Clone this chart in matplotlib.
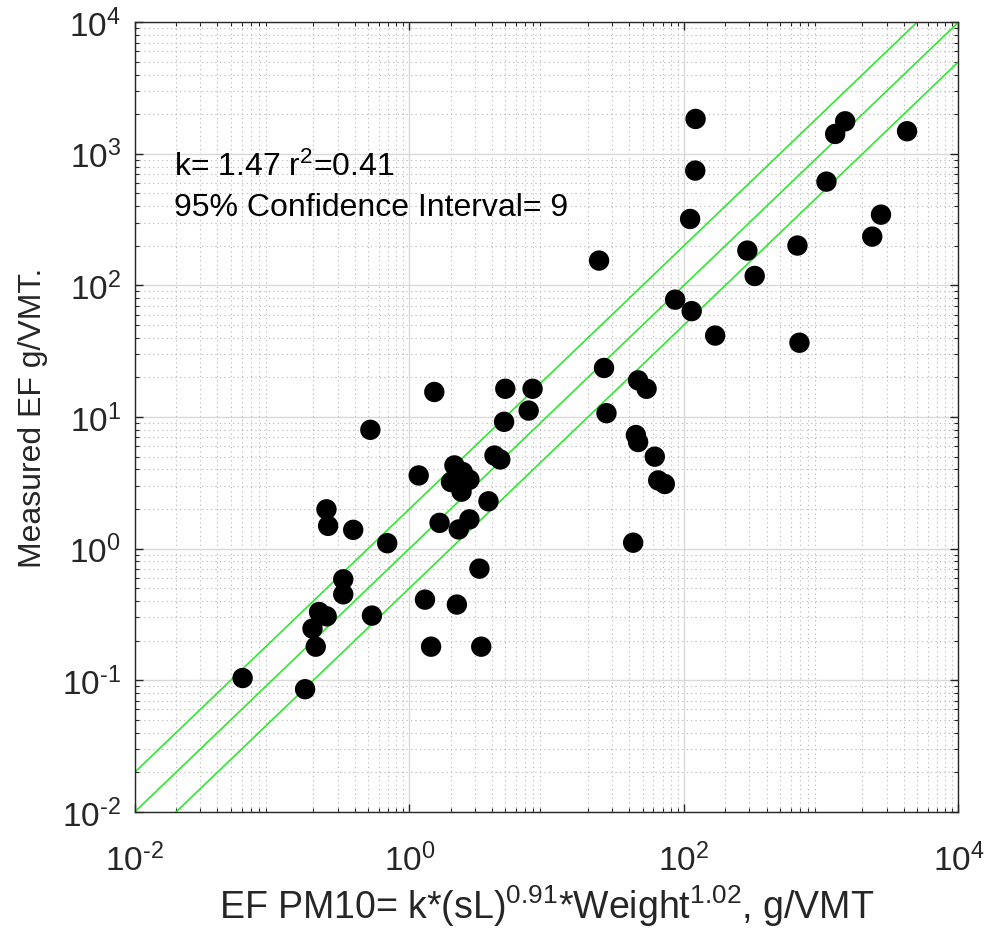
import matplotlib
matplotlib.use("Agg")
import matplotlib.pyplot as plt
import numpy as np
from matplotlib.ticker import LogLocator, NullFormatter

# predicted EF (x) and measured EF (y), g/VMT
pred = [0.061, 0.174, 0.208, 0.197, 0.22, 0.25, 0.33, 0.33, 0.534, 0.52,
        0.249, 0.256, 0.39, 0.69, 1.17, 1.3, 1.44, 1.52, 1.66, 2.22,
        2.29, 2.74, 3.24, 3.34, 3.77, 4.17, 4.6, 4.9, 5.0, 7.4,
        7.9, 2.13, 2.45, 2.01, 2.74, 2.4, 24.1, 26.2, 27.3, 46.4,
        53.5, 44.7, 46.4, 61.4, 65.0, 72.6, 42.7, 86.4, 114, 169,
        111, 121, 121.7, 290, 328, 672, 695, 1093, 1265, 1496,
        2356, 2729, 4225]
meas = [0.104, 0.0855, 0.18, 0.247, 0.33, 0.306, 0.45, 0.585, 0.31, 8.0,
        1.99, 1.49, 1.39, 1.1, 3.6, 0.41, 0.18, 15.5, 1.57, 0.376,
        1.4, 1.67, 0.705, 0.18, 2.29, 5.1, 4.76, 9.2, 16.4, 11.2,
        16.4, 4.29, 3.82, 3.21, 3.34, 2.71, 154.5, 23.6, 10.7, 19.0,
        16.4, 7.3, 6.46, 5.0, 3.3, 3.1, 1.11, 78, 63.8, 41.6,
        320, 746, 1841, 184, 118, 201, 36.7, 615, 1416, 1767,
        235, 345, 1485]

line_ratios = [2.0, 1.0, 0.5]
line_x = [1e-2, 1e4]

x_ticks = [1e-2, 1e0, 1e2, 1e4]
x_ticklabels = ["10$^{\\text{-}2}$", "10$^{0}$", "10$^{2}$", "10$^{4}$"]
y_ticks = [1e-2, 1e-1, 1e0, 1e1, 1e2, 1e3, 1e4]
y_ticklabels = ["10$^{\\text{-}2}$", "10$^{\\text{-}1}$", "10$^{0}$", "10$^{1}$",
                "10$^{2}$", "10$^{3}$", "10$^{4}$"]

k_text = "k= 1.47 r$^2$=0.41"
ci_text = "95% Confidence Interval= 9"
xlabel = "EF PM10= k*(sL)$^{0.91}$*Weight$^{1.02}$, g/VMT"
ylabel = "Measured EF g/VMT."

plt.rcParams['font.family'] = ['Liberation Sans', 'DejaVu Sans']
plt.rcParams['mathtext.fontset'] = 'custom'
plt.rcParams['mathtext.rm'] = 'Liberation Sans'
plt.rcParams['mathtext.it'] = 'Liberation Sans'
plt.rcParams['mathtext.bf'] = 'Liberation Sans'

fig = plt.figure(figsize=(9.84, 9.29), dpi=100)
ax = fig.add_axes([0.137, 0.125, 0.837, 0.850])
ax.set_xscale('log')
ax.set_yscale('log')
ax.set_xlim(1e-2, 1e4)
ax.set_ylim(1e-2, 1e4)

ax.grid(which='major', color='#d9d9d9', linewidth=1.0, linestyle='-')
ax.grid(which='minor', color='#b5b5b5', linewidth=0.8, linestyle=(0, (1, 3)))
ax.set_axisbelow(True)

for r in line_ratios:
    ax.plot(line_x, [r * v for v in line_x], color='#2ee82e', linewidth=1.2, zorder=2)

ax.scatter(pred, meas, s=215, color='black', edgecolors='none', zorder=3)

ax.xaxis.set_minor_locator(LogLocator(base=10, subs=np.arange(2, 10), numticks=100))
ax.yaxis.set_minor_locator(LogLocator(base=10, subs=np.arange(2, 10), numticks=100))
ax.xaxis.set_minor_formatter(NullFormatter())
ax.yaxis.set_minor_formatter(NullFormatter())
ax.set_xticks(x_ticks)
ax.set_xticklabels(x_ticklabels)
ax.set_yticks(y_ticks)
ax.set_yticklabels(y_ticklabels)
ax.set_xlim(1e-2, 1e4)
ax.set_ylim(1e-2, 1e4)

ax.tick_params(which='both', direction='in', top=True, right=True, colors='#262626')
ax.tick_params(which='major', length=6, width=1, labelsize=24)
ax.tick_params(axis='x', which='major', pad=22)
ax.tick_params(axis='y', which='major', pad=10)
ax.tick_params(which='minor', length=3, width=0.8)
for sp in ax.spines.values():
    sp.set_color('#262626')
    sp.set_linewidth(1.0)

ax.set_xlabel(xlabel, fontsize=27, color='#262626', labelpad=4)
ax.set_ylabel(ylabel, fontsize=23, color='#262626', labelpad=10)

ax.text(0.048, 0.817, k_text, transform=ax.transAxes, fontsize=23, va='center', ha='left', color='black')
ax.text(0.048, 0.766, ci_text, transform=ax.transAxes, fontsize=23, va='center', ha='left', color='black')

fig.savefig("out.png", dpi=100, facecolor='white')
